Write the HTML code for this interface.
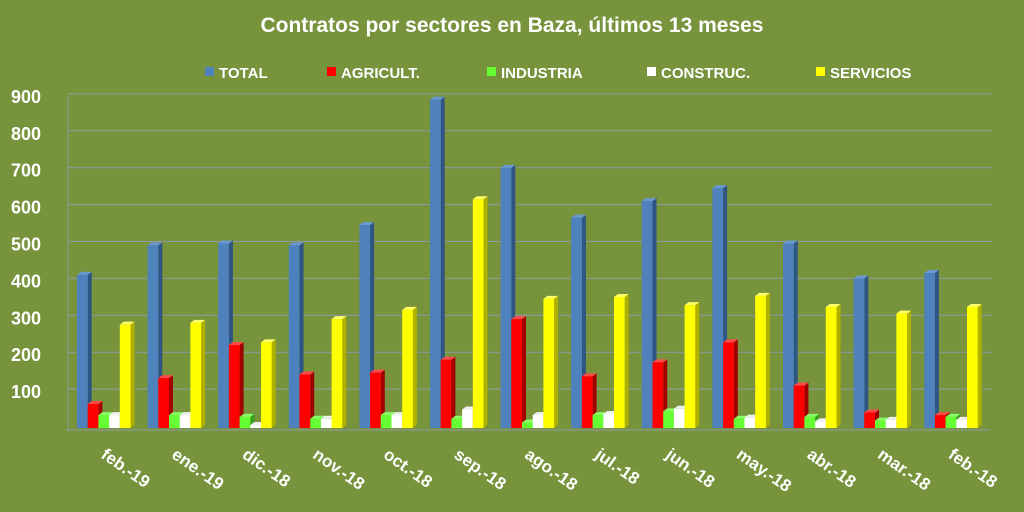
<!DOCTYPE html>
<html><head><meta charset="utf-8"><style>
html,body{margin:0;padding:0;background:#77933c;}
svg{display:block;font-family:"Liberation Sans",sans-serif;}
</style></head><body>
<svg id="s" width="1024" height="512" xmlns="http://www.w3.org/2000/svg">
<rect width="1024" height="512" fill="#77933c"/>
<text x="512" y="32" text-anchor="middle" font-size="21" font-weight="bold" fill="#fff">Contratos por sectores en Baza, últimos 13 meses</text>
</svg>
<script>
const s=document.getElementById('s');const NS='http://www.w3.org/2000/svg';
function el(t,a,txt){const e=document.createElementNS(NS,t);for(const k in a)e.setAttribute(k,a[k]);if(txt!==undefined)e.textContent=txt;s.appendChild(e);return e;}
const Z=428,K=0.369;
for(let v=100;v<=900;v+=100){const y=Z-v*K;el('line',{x1:68,y1:y-2,x2:992,y2:y-2,stroke:'#8e9aa8','stroke-width':1});
el('text',{x:11,y:y+7,'font-size':18,'font-weight':'bold',fill:'#fff'},v);}
el('line',{x1:66,y1:Z+2,x2:990,y2:Z+2,stroke:'#8e9aa8','stroke-width':1});
el('line',{x1:68,y1:96,x2:68,y2:Z+2,stroke:'#8e9aa8','stroke-width':1});
const cols=[['#4f81bd','#2f5585','#6a98d0'],['#ff0000','#a00000','#ff4a4a'],['#66ff33','#3aa01c','#88ff66'],['#ffffff','#b0b0b0','#f0f0f0'],['#ffff00','#b0b000','#ffff66']];
const names=['TOTAL','AGRICULT.','INDUSTRIA','CONSTRUC.','SERVICIOS'];
const lx=[205,327,487,647,816];
names.forEach((n,i)=>{el('rect',{x:lx[i],y:67,width:9,height:9,fill:cols[i][0]});el('text',{x:lx[i]+14,y:78,'font-size':15,'font-weight':'bold',fill:'#fff'},n);});
const data=[['feb.-19',415,65,35,35,280],['ene.-19',495,135,35,35,285],['dic.-18',500,225,30,8,232],['nov.-18',495,145,25,25,295],['oct.-18',550,150,35,35,320],['sep.-18',890,185,25,50,620],['ago.-18',705,295,15,35,350],['jul.-18',570,140,35,38,355],['jun.-18',615,178,45,52,333],['may.-18',650,232,25,28,358],['abr.-18',500,115,30,18,328],['mar.-18',405,42,20,22,310],['feb.-18',420,35,30,22,328]];
const W=10.7,D=4,Dy=3;
data.forEach((d,g)=>{const x0=77+g*70.6;
for(let i=0;i<5;i++){const x=x0+i*W,h=d[i+1]*K,y=Z-h;
el('polygon',{points:`${x+W},${y} ${x+W+D},${y-Dy} ${x+W+D},${Z-Dy} ${x+W},${Z}`,fill:cols[i][1]});
el('polygon',{points:`${x},${y} ${x+D},${y-Dy} ${x+W+D},${y-Dy} ${x+W},${y}`,fill:cols[i][2]});
el('rect',{x:x,y:y,width:W,height:h,fill:cols[i][0]});}
const cx=x0+23;el('text',{x:cx,y:457,'font-size':17,'font-weight':'bold',fill:'#fff',transform:`rotate(35 ${cx} 457)`},d[0]);});
</script>
</body></html>
